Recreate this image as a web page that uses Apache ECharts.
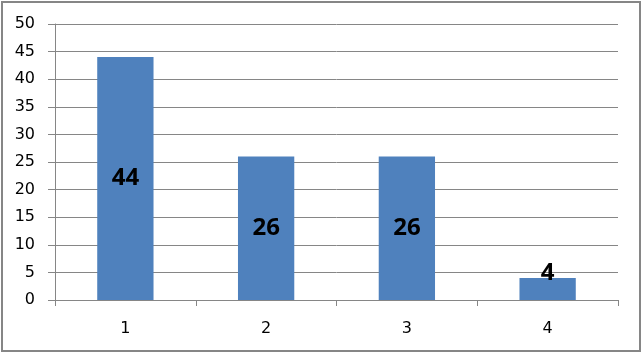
<!DOCTYPE html>
<html>
<head>
<meta charset="utf-8">
<script src="https://cdn.jsdelivr.net/npm/echarts@6/dist/echarts.min.js"></script>
<style>
html,body{margin:0;padding:0;background:#fff;}
#c{width:642px;height:353px;}
</style>
</head>
<body>
<div id="c"></div>
<script>
const categories = ['1', '2', '3', '4'];
const values = [44, 26, 26, 4];
const yTicks = [0, 5, 10, 15, 20, 25, 30, 35, 40, 45, 50];

const chart = echarts.init(document.getElementById('c'), null, {renderer: 'canvas'});
const gray = '#868686';
const data = values.map(function (v) {
  const item = {value: v};
  if (v < 8) {
    item.label = {position: 'top', distance: -7};
  }
  return item;
});
chart.setOption({
  animation: false,
  backgroundColor: '#fff',
  textStyle: {fontFamily: 'DejaVu Sans'},
  graphic: [{
    type: 'rect',
    shape: {x: 2, y: 2, width: 638, height: 349},
    style: {fill: 'none', stroke: gray, lineWidth: 2},
    silent: true
  }],
  grid: {left: 55, right: 24, top: 24, bottom: 53, containLabel: false},
  xAxis: {
    type: 'category',
    data: categories,
    axisLine: {lineStyle: {color: gray, width: 1}},
    axisTick: {show: true, length: 6, lineStyle: {color: gray}, alignWithLabel: false},
    axisLabel: {color: '#000', fontSize: 16, margin: 21, fontFamily: 'DejaVu Sans'},
    splitLine: {show: false}
  },
  yAxis: {
    type: 'value',
    min: yTicks[0],
    max: yTicks[yTicks.length - 1],
    interval: 5,
    axisLine: {show: true, lineStyle: {color: gray, width: 1}},
    axisTick: {show: true, length: 7, lineStyle: {color: gray}},
    axisLabel: {color: '#000', fontSize: 16, margin: 20, fontFamily: 'DejaVu Sans'},
    splitLine: {show: true, lineStyle: {color: gray, width: 1}}
  },
  series: [{
    type: 'bar',
    data: data,
    barWidth: '40%',
    itemStyle: {color: '#4F81BD'},
    label: {
      show: true,
      position: 'inside',
      color: '#000',
      fontSize: 24,
      fontWeight: 'bold',
      fontFamily: 'Open Sans'
    }
  }]
});
</script>
</body>
</html>
